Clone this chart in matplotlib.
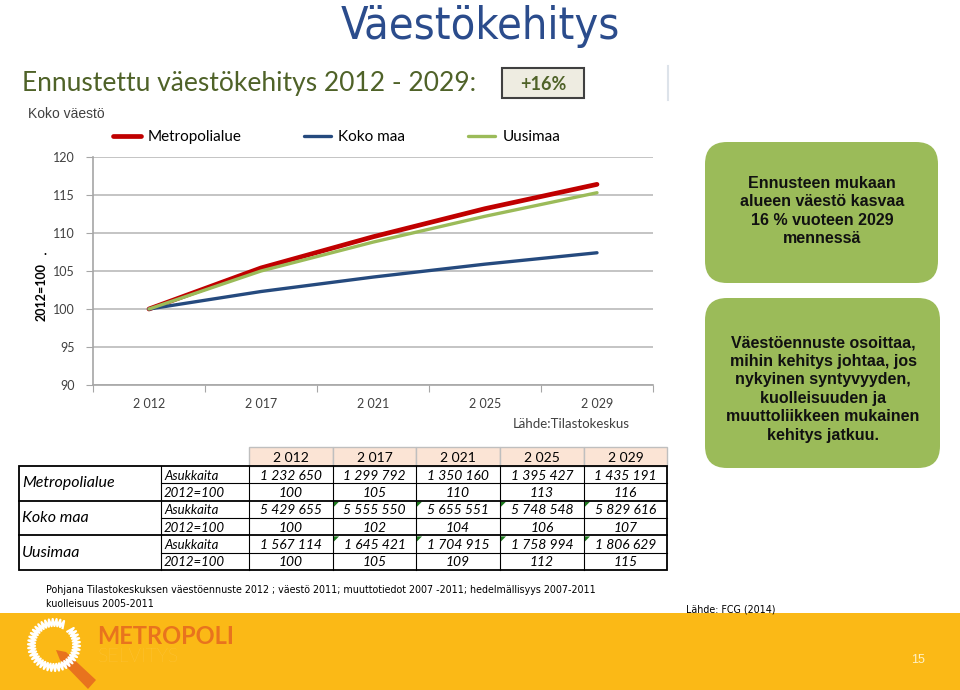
import matplotlib
matplotlib.use("Agg")
import numpy as np
import matplotlib.pyplot as plt
from matplotlib import font_manager as fm
from matplotlib.patches import Rectangle, FancyBboxPatch, Polygon

# data
years = [2012, 2017, 2021, 2025, 2029]
metro_idx = [100, 105.4, 109.5, 113.2, 116.4]
koko_idx = [100, 102.3, 104.2, 105.9, 107.4]
uusimaa_idx = [100, 105.0, 108.8, 112.2, 115.3]

groups = ["Metropolialue", "Koko maa", "Uusimaa"]
pop = [
    [1232650, 1299792, 1350160, 1395427, 1435191],
    [5429655, 5555550, 5655551, 5748548, 5829616],
    [1567114, 1645421, 1704915, 1758994, 1806629],
]
idx_table = [
    [100, 105, 110, 113, 116],
    [100, 102, 104, 106, 107],
    [100, 105, 109, 112, 115],
]

RED = "#C00000"
BLUE = "#254A7E"
GREEN = "#9BBB59"
OLIVE = "#4F6228"
CAL = ["Lato", "DejaVu Sans"]
ARIAL = ["Liberation Sans", "DejaVu Sans"]

# pick a narrow face for the Arial Narrow style texts, if one is installed
_fonts = fm.fontManager.ttflist
if any(f.name == "Liberation Sans Narrow" for f in _fonts):
    NARROW = dict(family=["Liberation Sans Narrow", "DejaVu Sans"])
    NSCALE = 1.0
elif any(f.name == "DejaVu Sans" and f.stretch == "condensed" for f in _fonts):
    NARROW = dict(family=["DejaVu Sans"], stretch="condensed")
    NSCALE = 0.85
else:
    NARROW = dict(family=ARIAL)
    NSCALE = 0.78


def spaced(v):
    return f"{v:,}".replace(",", " ")


fig = plt.figure(figsize=(9.6, 6.9), dpi=100)
bg = fig.add_axes([0, 0, 1, 1])
bg.set_xlim(0, 960)
bg.set_ylim(690, 0)
bg.axis("off")

# headings
bg.text(480, 26, "Väestökehitys", fontsize=38 * NSCALE, color="#2B4C8C",
        ha="center", va="center", **NARROW)
bg.text(22, 84, "Ennustettu väestökehitys 2012 - 2029:", family=CAL, fontsize=19,
        color=OLIVE, ha="left", va="center")
bg.add_patch(Rectangle((502, 68), 82, 30, fc="#EEECE1", ec="#404040", lw=1.5))
bg.text(543, 85, "+16%", family=CAL, fontsize=13, fontweight="bold", color=OLIVE,
        ha="center", va="center")
bg.plot([668, 668], [66, 100], color="#DDE3EA", lw=1.5)
bg.text(28, 114, "Koko väestö", family=ARIAL, fontsize=10, color="#404040",
        ha="left", va="center")

# line chart
ax = fig.add_axes([93 / 960, 1 - 385 / 690, (653 - 93) / 960, (385 - 157) / 690])
x = np.arange(len(years))
l1, = ax.plot(x, metro_idx, color=RED, lw=3.4, solid_capstyle="round")
l2, = ax.plot(x, koko_idx, color=BLUE, lw=2.4, solid_capstyle="round")
l3, = ax.plot(x, uusimaa_idx, color=GREEN, lw=2.4, solid_capstyle="round")
ax.set_xlim(-0.5, len(years) - 0.5)
ax.set_ylim(90, 120)
ax.set_yticks(range(90, 121, 5))
ax.yaxis.grid(True, color="#BFBFBF", lw=1.3)
ax.set_axisbelow(True)
for s in ["top", "right"]:
    ax.spines[s].set_visible(False)
for s in ["left", "bottom"]:
    ax.spines[s].set_color("#A6A6A6")
    ax.spines[s].set_linewidth(1.2)
ax.set_xticks(np.arange(-0.5, len(years), 1))
ax.set_xticklabels([])
ax.set_xticks(x, minor=True)
ax.set_xticklabels([spaced(y) for y in years], minor=True)
ax.tick_params(axis="x", which="major", length=5, color="#A6A6A6")
ax.tick_params(axis="x", which="minor", length=0, pad=9, labelsize=9, labelcolor="#404040")
ax.tick_params(axis="y", length=5, color="#A6A6A6", labelsize=9, labelcolor="#404040", pad=8)
for lab in ax.get_xticklabels(minor=True) + ax.get_yticklabels():
    lab.set_family(CAL)
ax.patch.set_alpha(0)

fig.legend([l1, l2, l3], groups, ncol=3, loc="center left",
           bbox_to_anchor=(113 / 960, 1 - 137 / 690), frameon=False,
           borderpad=0, borderaxespad=0, handlelength=1.8, handletextpad=0.45,
           columnspacing=4.1, prop={"family": CAL, "size": 11})

bg.text(42, 292, "2012=100", family=CAL, fontsize=9, fontweight="bold", rotation=90,
        ha="center", va="center", color="black")
bg.text(45, 251, ".", family=CAL, fontsize=9, fontweight="bold", ha="center", va="center")
bg.text(630, 424, "Lähde:Tilastokeskus", family=CAL, fontsize=9.5, color="#404040",
        ha="right", va="center")

# table
col_x = [19, 161, 249, 333, 416, 500, 584, 667]
head_top, body_top, row_h = 447, 466, 17.35
for j, yr in enumerate(years):
    x0, x1 = col_x[j + 2], col_x[j + 3]
    bg.add_patch(Rectangle((x0, head_top), x1 - x0, body_top - head_top,
                           fc="#FBE4D5", ec="#BFBFBF", lw=1))
    bg.text((x0 + x1) / 2, (head_top + body_top) / 2 + 1, spaced(yr), family=CAL,
            fontsize=10, ha="center", va="center")

body_bot = body_top + 6 * row_h
for gi, name in enumerate(groups):
    gy = body_top + gi * 2 * row_h
    bg.text(22, gy + row_h, name, family=CAL, fontsize=11.5, style="italic",
            ha="left", va="center")
    for r, (sub, vals) in enumerate([("Asukkaita", pop[gi]), ("2012=100", idx_table[gi])]):
        ry = gy + r * row_h
        bg.text(164, ry + row_h / 2 + 1, sub, family=CAL, fontsize=9.5, style="italic",
                ha="left", va="center")
        for j, v in enumerate(vals):
            x0, x1 = col_x[j + 2], col_x[j + 3]
            bg.text((x0 + x1) / 2, ry + row_h / 2 + 1, spaced(v), family=CAL,
                    fontsize=10, style="italic", ha="center", va="center")
            if r == 0 and gi > 0 and j > 0:
                bg.add_patch(Polygon([(x0 + 1, ry + 1), (x0 + 6, ry + 1), (x0 + 1, ry + 6)],
                                     closed=True, fc="#1E7B1E", ec="none"))
    # separators
    bg.plot([col_x[1], col_x[-1]], [gy + row_h, gy + row_h], color="black", lw=0.8)
    if gi > 0:
        bg.plot([col_x[0], col_x[-1]], [gy, gy], color="black", lw=1.3)
bg.add_patch(Rectangle((col_x[0], body_top), col_x[-1] - col_x[0], body_bot - body_top,
                       fc="none", ec="black", lw=1.3))
for cx in col_x[1:-1]:
    bg.plot([cx, cx], [body_top, body_bot], color="black", lw=0.8)

# right-hand text boxes
bg.add_patch(FancyBboxPatch((705, 142), 233, 141, boxstyle="round,pad=0,rounding_size=22",
                            fc=GREEN, ec="none"))
bg.text(822, 211, "Ennusteen mukaan\nalueen väestö kasvaa\n16 % vuoteen 2029\nmennessä",
        family=ARIAL, fontsize=11.5, fontweight="bold", ha="center", va="center",
        linespacing=1.3, color="#111111")
bg.add_patch(FancyBboxPatch((705, 298), 235, 170, boxstyle="round,pad=0,rounding_size=22",
                            fc=GREEN, ec="none"))
bg.text(823, 389, "Väestöennuste osoittaa,\nmihin kehitys johtaa, jos\nnykyinen syntyvyyden,\n"
        "kuolleisuuden ja\nmuuttoliikkeen mukainen\nkehitys jatkuu.",
        family=ARIAL, fontsize=11.5, fontweight="bold", ha="center", va="center",
        linespacing=1.3, color="#111111")

# footnotes
fn = 9 * NSCALE
bg.text(46, 590, "Pohjana Tilastokeskuksen väestöennuste 2012 ; väestö 2011; muuttotiedot 2007 -2011; "
        "hedelmällisyys 2007-2011", fontsize=fn, ha="left", va="center", **NARROW)
bg.text(46, 604, "kuolleisuus 2005-2011", fontsize=fn, ha="left", va="center", **NARROW)
bg.text(686, 609, "Lähde: FCG (2014)", fontsize=fn, ha="left", va="center", **NARROW)

# footer band with logo
bg.add_patch(Rectangle((0, 613), 960, 77, fc="#FBB916", ec="none"))
t = np.linspace(0.35 * np.pi, 2.25 * np.pi, 81)
r = np.where(np.arange(len(t)) % 2 == 0, 19, 26)
bg.plot(54 + r * np.cos(t), 645 - r * np.sin(t), color="white", lw=1.6)
bg.add_patch(Polygon([(56, 650), (66, 652), (96, 680), (88, 689), (60, 660)],
                     closed=True, fc="#E8731E", ec="none"))
bg.text(97, 637, "METROPOLI", family=CAL, fontsize=17, fontweight="bold",
        color="#E8731E", ha="left", va="center")
bg.text(98, 657, "SELVITYS", family=CAL, fontsize=14, fontweight="light",
        color="#FDCB55", ha="left", va="center")
bg.text(918, 660, "15", family=ARIAL, fontsize=9, color="#FFF2C8", ha="center", va="center")

fig.savefig("out.png", dpi=100)
